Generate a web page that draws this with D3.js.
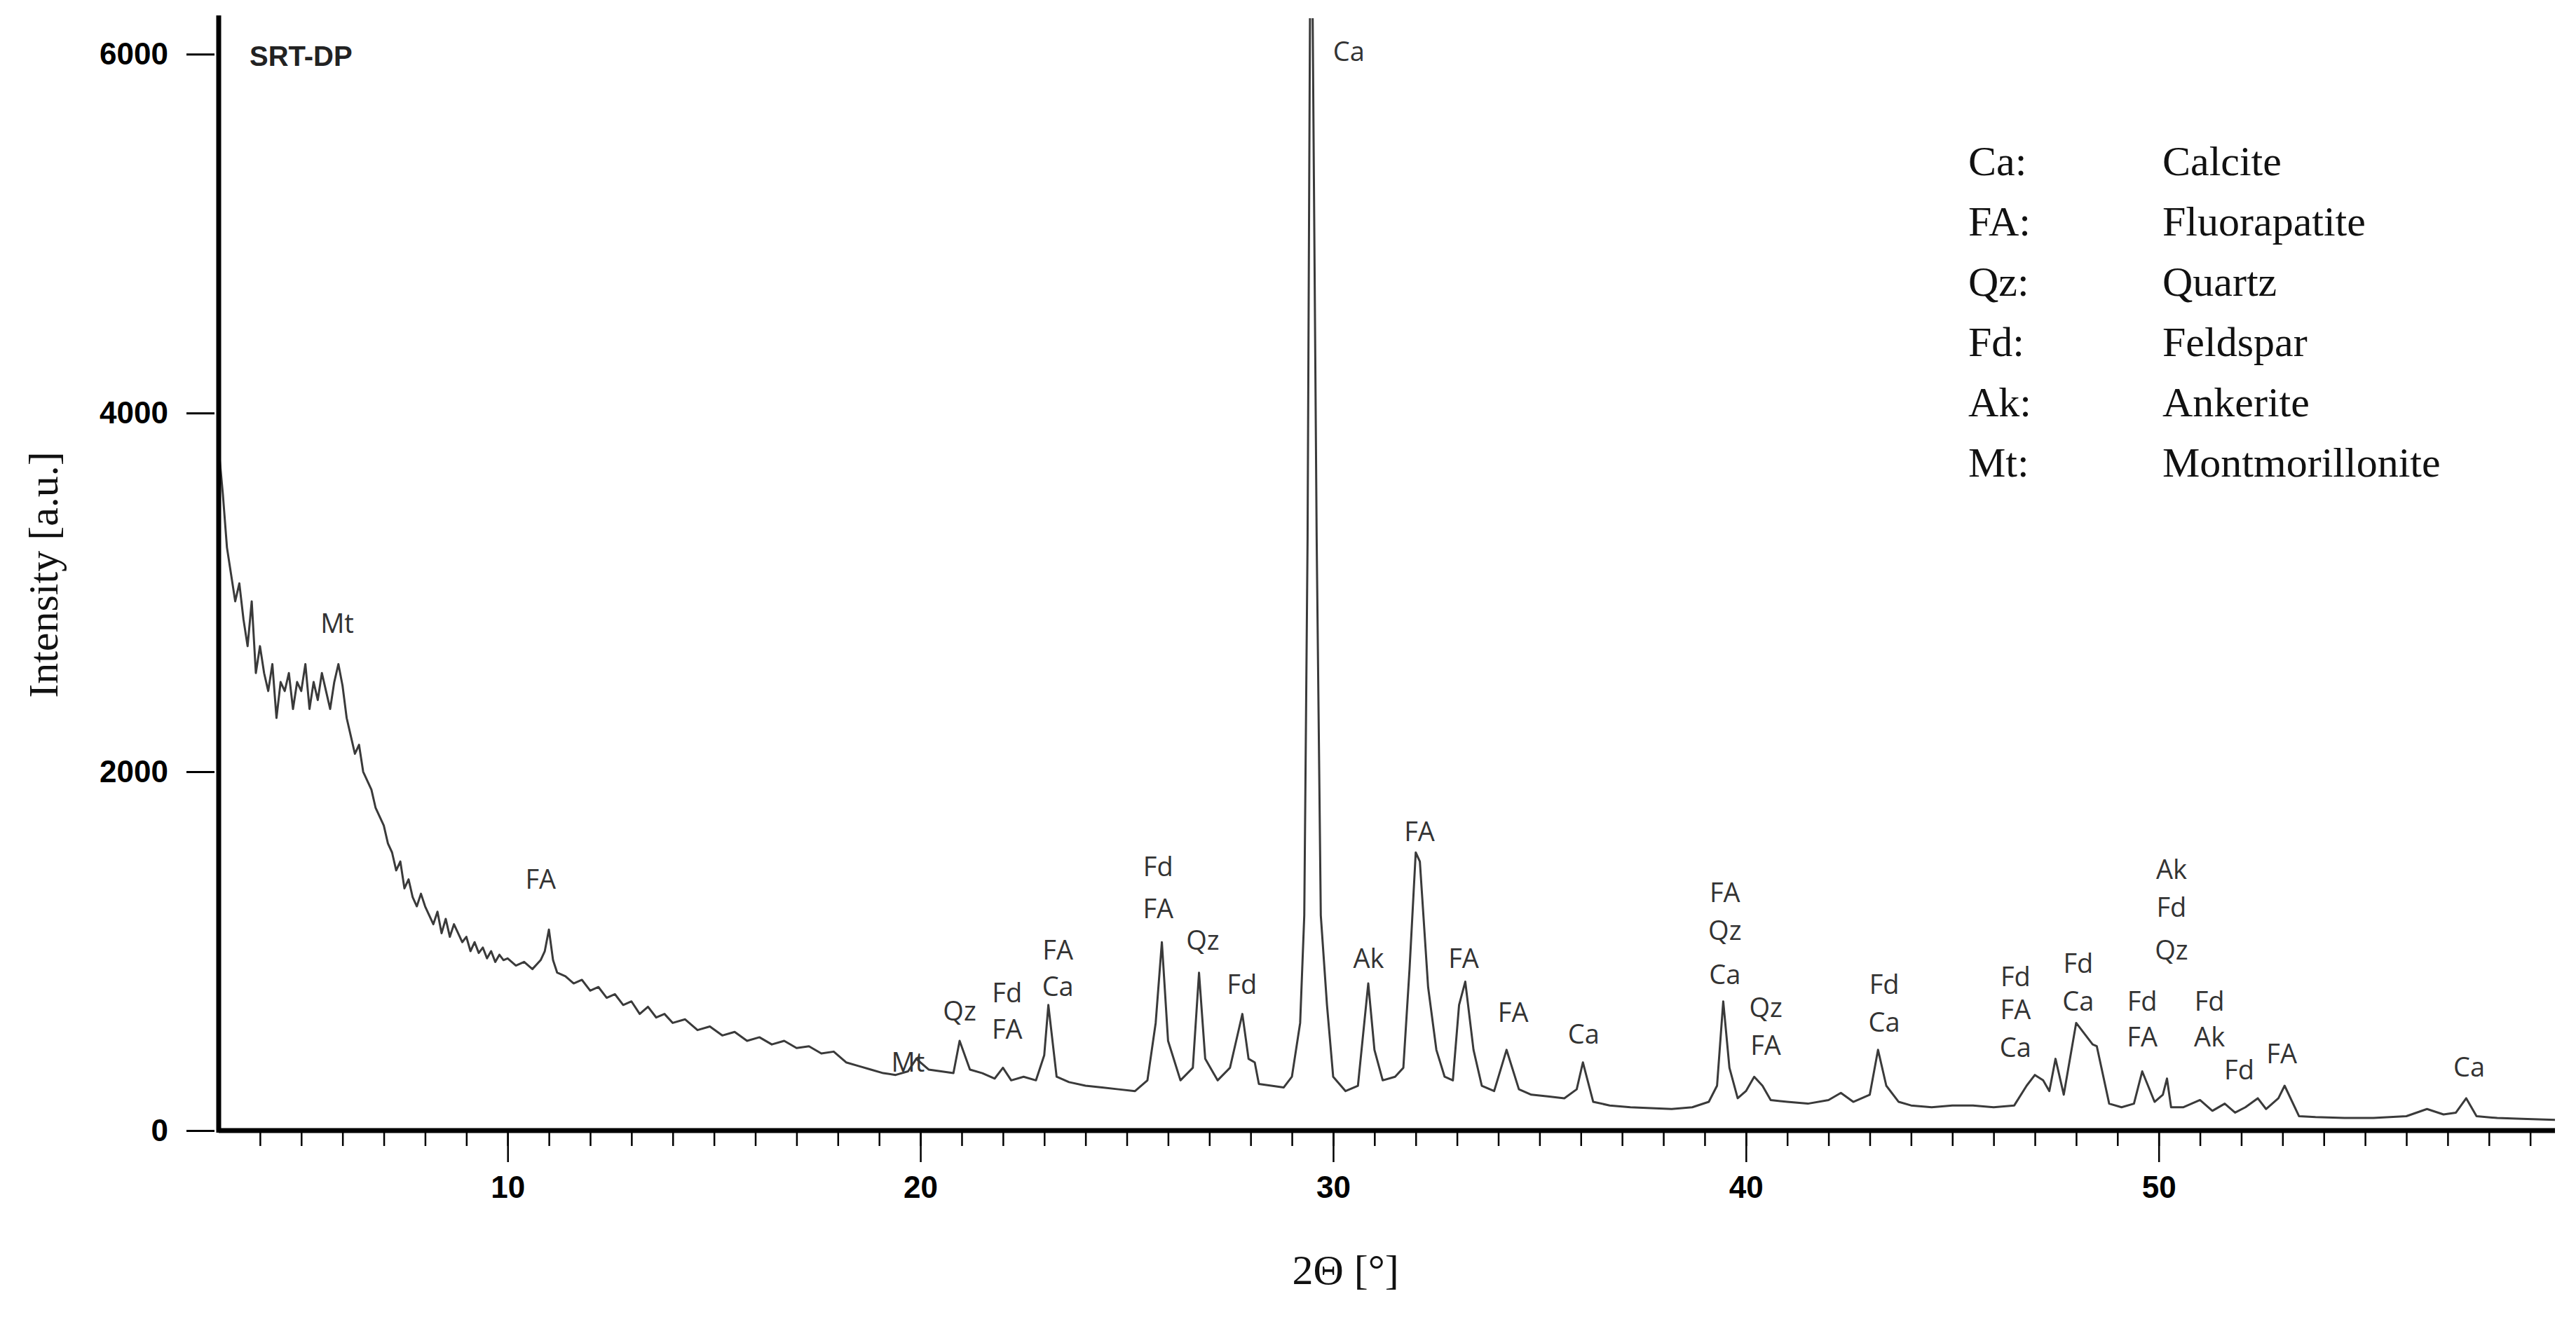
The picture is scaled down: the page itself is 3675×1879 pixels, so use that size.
<!DOCTYPE html>
<html>
<head>
<meta charset="utf-8">
<script src="https://cdn.jsdelivr.net/npm/d3@7"></script>
<style>
body { margin: 0; background: #fff; }
.tick-y text { font-family: Arial, "Liberation Sans", sans-serif; font-weight: bold; font-size: 44px; }
.peak { font-family: "Open Sans", sans-serif; font-size: 38px; fill: #333; text-anchor: middle; }
.serif { font-family: "Liberation Serif", "Times New Roman", serif; font-size: 60px; fill: #111; }
</style>
</head>
<body>
<div id="chart"></div>
<script>
var width = 3675, height = 1879;
var margin = {top: 26, right: 30, bottom: 266, left: 312};

// diffractogram
var twoTheta = [3.0,3.1,3.2,3.3,3.4,3.5,3.6,3.7,3.8,3.9,4.0,4.1,4.2,4.3,4.4,4.5,4.6,4.7,4.8,4.9,
  5.0,5.1,5.2,5.3,5.4,5.5,5.6,5.7,5.8,5.9,6.0,6.1,6.2,6.3,6.4,6.5,6.6,6.7,6.8,6.9,
  7.0,7.1,7.2,7.3,7.4,7.5,7.6,7.7,7.8,7.9,8.0,8.1,8.2,8.3,8.4,8.5,8.6,8.7,8.8,8.9,
  9.0,9.1,9.2,9.3,9.4,9.5,9.6,9.7,9.8,9.9,10.0,10.2,10.4,10.6,10.8,10.9,11.0,11.1,11.2,11.4,
  11.6,11.8,12.0,12.2,12.4,12.6,12.8,13.0,13.2,13.4,13.6,13.8,14.0,14.3,14.6,14.9,15.2,15.5,15.8,16.1,
  16.4,16.7,17.0,17.3,17.6,17.9,18.2,18.5,18.8,19.1,19.4,19.7,19.9,20.2,20.5,20.8,20.95,21.2,21.5,21.8,
  22.0,22.2,22.5,22.8,23.0,23.1,23.3,23.6,24.0,24.4,24.8,25.2,25.5,25.7,25.85,26.0,26.3,26.6,26.75,26.9,
  27.2,27.5,27.7,27.8,27.95,28.1,28.2,28.5,28.8,29.0,29.2,29.3,29.38,29.44,29.5,29.6,29.7,29.85,30.0,30.3,
  30.6,30.85,31.0,31.2,31.5,31.7,31.85,32.0,32.1,32.3,32.5,32.7,32.9,33.05,33.2,33.4,33.6,33.9,34.2,34.5,
  34.8,35.2,35.6,35.9,36.05,36.3,36.7,37.2,37.7,38.2,38.7,39.1,39.3,39.45,39.6,39.8,40.0,40.2,40.4,40.6,
  41.0,41.5,42.0,42.3,42.6,43.0,43.2,43.4,43.7,44.0,44.5,45.0,45.5,46.0,46.5,46.8,47.0,47.2,47.35,47.5,
  47.7,48.0,48.4,48.5,48.8,49.1,49.4,49.6,49.9,50.1,50.2,50.3,50.6,51.0,51.3,51.6,51.85,52.1,52.4,52.6,
  52.9,53.05,53.4,53.8,54.5,55.2,56.0,56.5,56.9,57.2,57.45,57.7,58.2,58.8,59.6];
var intensity = [3800,3550,3250,3100,2950,3050,2850,2700,2950,2550,2700,2550,2450,2600,2300,2500,2450,2550,2350,2500,
  2450,2600,2350,2500,2400,2550,2450,2350,2500,2600,2480,2300,2200,2100,2150,2000,1950,1900,1800,1750,
  1700,1600,1550,1450,1500,1350,1400,1300,1250,1320,1250,1200,1150,1220,1100,1180,1080,1150,1100,1050,
  1080,1000,1050,990,1020,960,1000,940,980,950,960,920,940,900,950,1000,1120,950,880,860,
  820,840,780,800,740,760,700,720,650,690,630,650,600,620,560,580,530,550,500,520,
  480,500,460,470,430,440,380,360,340,320,310,330,400,340,330,320,500,340,320,290,
  350,280,300,280,420,700,300,270,250,240,230,220,280,600,1050,500,280,350,880,400,
  280,350,550,650,400,380,260,250,240,300,600,1200,3300,6300,6300,3300,1200,700,300,220,
  250,820,450,280,300,350,900,1550,1500,800,450,300,280,700,830,450,250,220,450,230,
  200,190,180,230,380,160,140,130,125,120,130,160,250,720,350,180,220,300,250,170,
  160,150,170,210,160,200,450,250,160,140,130,140,140,130,140,250,310,280,220,400,
  200,600,480,470,150,130,150,330,160,200,290,130,130,170,110,150,100,130,180,120,
  180,250,80,75,70,70,80,120,90,100,180,80,70,65,60];

var yTicks = [0, 2000, 4000, 6000];
var legendCodes = ["Ca:", "FA:", "Qz:", "Fd:", "Ak:", "Mt:"];
var legendNames = ["Calcite", "Fluorapatite", "Quartz", "Feldspar", "Ankerite", "Montmorillonite"];

// peak labels: position in 2θ / intensity, text
var peakX = [5.87,10.8,19.7,20.95,22.1,22.1,23.33,23.33,25.76,25.76,26.84,27.79,30.38,30.86,32.09,33.16,34.36,36.07,
  39.49,39.49,39.49,40.48,40.48,43.35,43.35,46.53,46.53,46.53,48.05,48.05,50.31,50.31,50.31,49.6,49.6,51.23,51.23,51.95,52.98,57.52];
var peakY = [2775,1347,330,614,714,513,953,751,1420,1182,1008,760,5963,907,1612,907,605,485,
  1273,1063,815,632,421,760,550,806,623,412,879,669,1401,1191,953,669,467,669,467,284,376,302];
var peakText = ["Mt","FA","Mt","Qz","Fd","FA","FA","Ca","Fd","FA","Qz","Fd","Ca","Ak","FA","FA","FA","Ca",
  "FA","Qz","Ca","Qz","FA","Fd","Ca","Fd","FA","Ca","Fd","Ca","Ak","Fd","Qz","Fd","FA","Fd","Ak","Fd","FA","Ca"];

var svg = d3.select("#chart").append("svg")
  .attr("width", width)
  .attr("height", height);

var x = d3.scaleLinear().domain([3, 59.6]).range([margin.left, width - margin.right]);
var y = d3.scaleLinear().domain([0, 6200]).range([height - margin.bottom, margin.top]);

svg.append("clipPath").attr("id", "clip")
  .append("rect")
  .attr("x", margin.left).attr("y", margin.top)
  .attr("width", width - margin.right - margin.left)
  .attr("height", height - margin.bottom - margin.top);

var line = d3.line()
  .x(function(d, i) { return x(twoTheta[i]); })
  .y(function(d) { return y(d); });

svg.append("path")
  .datum(intensity)
  .attr("clip-path", "url(#clip)")
  .attr("fill", "none")
  .attr("stroke", "#3a3a3a")
  .attr("stroke-width", 3)
  .attr("stroke-linejoin", "round")
  .attr("d", line);

// x axis: minor ticks each degree, major each ten
var xAxis = svg.append("g").attr("transform", "translate(0," + y(0) + ")");
xAxis.call(d3.axisBottom(x).tickValues(d3.range(4, 60, 1)).tickSize(22).tickFormat(""))
  .call(function(g) { g.selectAll(".tick line").attr("stroke-width", 2.5); });
xAxis.call(function(g) { g.select(".domain").remove(); });
var xMajor = svg.append("g").attr("transform", "translate(0," + y(0) + ")")
  .call(d3.axisBottom(x).tickValues([10, 20, 30, 40, 50]).tickSize(45).tickPadding(20).tickFormat(d3.format("d")));
xMajor.select(".domain").remove();
xMajor.selectAll(".tick line").attr("stroke-width", 2.5);
xMajor.selectAll(".tick text")
  .attr("font-family", "Arial, 'Liberation Sans', sans-serif")
  .attr("font-weight", "bold").attr("font-size", 44);

svg.append("line")
  .attr("x1", x(3)).attr("x2", x(59.6))
  .attr("y1", y(0)).attr("y2", y(0))
  .attr("stroke", "#000").attr("stroke-width", 7);

// y axis
var yAxis = svg.append("g").attr("class", "tick-y")
  .attr("transform", "translate(" + (margin.left - 6) + ",0)")
  .call(d3.axisLeft(y).tickValues(yTicks).tickSize(40).tickPadding(26).tickFormat(d3.format("d")));
yAxis.select(".domain").remove();
yAxis.selectAll(".tick line").attr("stroke-width", 3);

svg.append("line")
  .attr("x1", x(3)).attr("x2", x(3))
  .attr("y1", y(0) + 3).attr("y2", margin.top - 4)
  .attr("stroke", "#000").attr("stroke-width", 7);

svg.append("text")
  .text("SRT-DP")
  .attr("x", 356).attr("y", 94)
  .attr("font-family", "Arial, 'Liberation Sans', sans-serif")
  .attr("font-weight", "bold").attr("font-size", 40).attr("fill", "#222");

svg.selectAll("text.peak")
  .data(peakText)
  .enter()
  .append("text")
  .attr("class", "peak")
  .attr("x", function(d, i) { return x(peakX[i]); })
  .attr("y", function(d, i) { return y(peakY[i]); })
  .text(function(d) { return d; });

// legend
svg.selectAll("text.code")
  .data(legendCodes)
  .enter()
  .append("text")
  .attr("class", "serif")
  .attr("x", 2808)
  .attr("y", function(d, i) { return 250 + i * 86; })
  .text(function(d) { return d; });
svg.selectAll("text.name")
  .data(legendNames)
  .enter()
  .append("text")
  .attr("class", "serif")
  .attr("x", 3085)
  .attr("y", function(d, i) { return 250 + i * 86; })
  .text(function(d) { return d; });

svg.append("text")
  .attr("class", "serif")
  .attr("text-anchor", "middle")
  .attr("x", x(30.3)).attr("y", 1832)
  .text("2Θ [°]");

svg.append("text")
  .attr("class", "serif")
  .attr("text-anchor", "middle")
  .attr("transform", "translate(82,820) rotate(-90)")
  .text("Intensity [a.u.]");
</script>
</body>
</html>
